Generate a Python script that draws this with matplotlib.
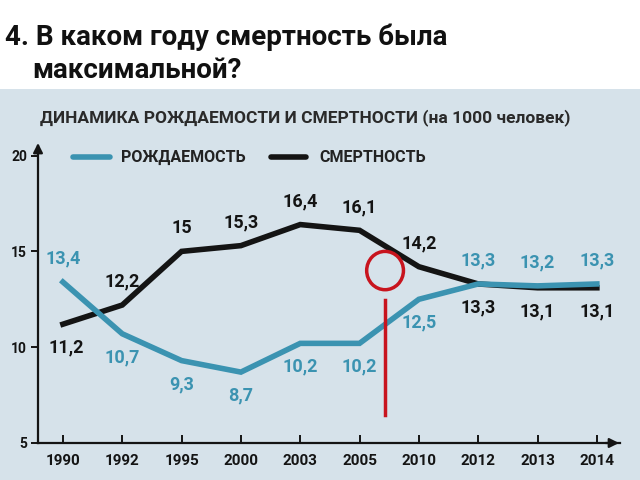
import matplotlib.pyplot as plt
from matplotlib.patches import Rectangle, Ellipse

years = ["1990", "1992", "1995", "2000", "2003", "2005", "2010", "2012", "2013", "2014"]
births = [13.4, 10.7, 9.3, 8.7, 10.2, 10.2, 12.5, 13.3, 13.2, 13.3]
deaths = [11.2, 12.2, 15.0, 15.3, 16.4, 16.1, 14.2, 13.3, 13.1, 13.1]
birth_labels = ["13,4", "10,7", "9,3", "8,7", "10,2", "10,2", "12,5", "13,3", "13,2", "13,3"]
death_labels = ["11,2", "12,2", "15", "15,3", "16,4", "16,1", "14,2", "13,3", "13,1", "13,1"]
# label above (+1) or below (-1) the point
birth_side = [1, -1, -1, -1, -1, -1, -1, 1, 1, 1]
death_side = [-1, 1, 1, 1, 1, 1, 1, -1, -1, -1]
yticks = [5, 10, 15, 20]

BLUE = "#3b93b1"
BLACK = "#141414"
RED = "#c8141e"
BG = "#d6e2ea"
FONT = ["Roboto", "DejaVu Sans"]

fig = plt.figure(figsize=(6.4, 4.8), dpi=100)
fig.patch.set_facecolor("white")
fig.patches.append(Rectangle((0, 0), 1, 391 / 480, transform=fig.transFigure,
                             facecolor=BG, edgecolor="none", zorder=-5))

fig.text(0.008, 0.906, "4. В каком году смертность была", fontsize=20,
         fontweight="bold", family=FONT, color="#111")
fig.text(0.05, 0.8375, "максимальной?", fontsize=20, fontweight="bold",
         family=FONT, color="#111")
fig.text(0.062, 0.745, "ДИНАМИКА РОЖДАЕМОСТИ И СМЕРТНОСТИ (на 1000 человек)",
         fontsize=12.5, fontweight="bold", family=FONT, color="#2a2a2a")

ax = fig.add_axes([38 / 640, 37 / 480, 582 / 640, 297 / 480])
ax.set_facecolor("none")
ax.set_zorder(2)
x = list(range(len(years)))
ax.set_xlim(-0.42, 9.39)
ax.set_ylim(5, 20.5)

ax.plot(x, deaths, color=BLACK, lw=4, solid_joinstyle="miter", zorder=3)
ax.plot(x, births, color=BLUE, lw=4, solid_joinstyle="miter", zorder=4)

for i in x:
    dy = 0.75 if death_side[i] > 0 else -0.75
    xi = i + 0.05 if i == 0 else i
    ax.text(xi, deaths[i] + dy, death_labels[i], ha="center",
            va="bottom" if dy > 0 else "top", fontsize=13, fontweight="bold",
            color=BLACK, family=FONT)
    dy = 0.75 if birth_side[i] > 0 else -0.75
    ax.text(i, births[i] + dy, birth_labels[i], ha="center",
            va="bottom" if dy > 0 else "top", fontsize=13, fontweight="bold",
            color=BLUE, family=FONT)

# legend
fig.add_artist(plt.Line2D([73 / 640, 110 / 640], [323 / 480, 323 / 480],
                          color=BLUE, lw=4, solid_capstyle="round"))
fig.text(121 / 640, 323 / 480, "РОЖДАЕМОСТЬ", va="center", fontsize=11.5,
         fontweight="bold", family=FONT, color="#222")
fig.add_artist(plt.Line2D([271 / 640, 306 / 640], [323 / 480, 323 / 480],
                          color=BLACK, lw=4, solid_capstyle="round"))
fig.text(319 / 640, 323 / 480, "СМЕРТНОСТЬ", va="center", fontsize=11.5,
         fontweight="bold", family=FONT, color="#222")

# red annotation
ax.add_patch(Ellipse((5.43, 14.0), 0.62, 2.0, fill=False, edgecolor=RED,
                     lw=2.5, zorder=5))
ax.plot([5.43, 5.43], [12.45, 6.45], color=RED, lw=2.5, zorder=5)

for s in ["top", "right"]:
    ax.spines[s].set_visible(False)
for s in ["left", "bottom"]:
    ax.spines[s].set_color(BLACK)
    ax.spines[s].set_linewidth(1.6)
ax.annotate("", xy=(9.42, 5), xytext=(9.1, 5),
            arrowprops=dict(arrowstyle="-|>", color=BLACK, lw=1.6,
                            mutation_scale=14), annotation_clip=False)
ax.annotate("", xy=(-0.42, 20.8), xytext=(-0.42, 20.0),
            arrowprops=dict(arrowstyle="-|>", color=BLACK, lw=1.6,
                            mutation_scale=14), annotation_clip=False)

ax.set_xticks(x)
ax.set_xticklabels(years)
ax.set_yticks(yticks)
ax.set_yticklabels([str(v) for v in yticks])
ax.tick_params(axis="x", direction="in", length=6, width=1.4, colors=BLACK,
               pad=8, labelsize=11)
ax.tick_params(axis="y", direction="out", length=5, width=1.4, colors=BLACK,
               pad=3, labelsize=10)
for lab in ax.get_xticklabels() + ax.get_yticklabels():
    lab.set_fontweight("bold")
    lab.set_family(FONT)

fig.savefig("out.png", dpi=100)
